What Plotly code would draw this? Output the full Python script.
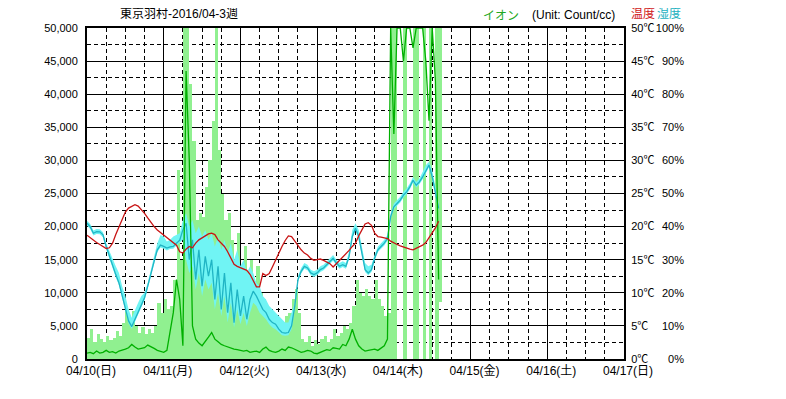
import pandas as pd
import plotly.graph_objects as go

# ---------------- data (hourly, from 2016-04-10 00:00) ----------------
start = "2016-04-10 00:00"

temperature = [
    18.7, 18.3, 18.0, 17.6, 17.3, 17.0, 16.7, 16.8, 17.5, 18.8,
    20.0, 21.2, 22.2, 22.8, 23.1, 23.3, 23.1, 22.6, 22.0, 21.3,
    20.6, 20.0, 19.5, 19.1, 18.8, 18.4, 18.0, 17.6, 17.2, 16.2,
    16.0, 16.6, 17.0, 16.8, 17.5, 18.0, 18.3, 18.7, 18.9, 19.0,
    18.8, 18.0, 17.5, 17.0, 16.2, 15.2, 14.3, 14.0, 13.8, 13.6,
    13.4, 12.8, 11.8, 10.9, 10.9, 12.9, 12.6, 12.9, 13.9, 15.0,
    16.0, 17.0, 17.9, 18.6, 18.5, 17.8, 17.2, 16.5, 16.0, 15.7,
    15.2, 14.9, 15.0, 15.1, 14.9, 14.6, 14.4, 13.9, 14.4, 14.9,
    15.3, 15.9, 16.4, 17.0, 17.5, 18.6, 19.6, 20.4, 20.6, 20.2,
    19.0, 18.5, 18.4, 18.3, 18.2, 17.8, 17.5, 17.3, 17.1, 16.9,
    16.7, 16.6, 16.5, 16.7, 16.9, 17.2, 17.6, 18.3, 19.0, 19.8, 20.8,
]

humidity = [
    41, 40, 38, 38.5, 38.4, 37.5, 34, 31, 28, 25.5,
    23, 19, 15.5, 11.5, 9.8, 12, 14, 16.5, 18.5, 22,
    26, 29.5, 33, 34.4, 34, 33.5, 33.9, 34, 35, 35.9,
    39, 41, 30, 36, 24, 33, 22, 31, 25, 30,
    18, 28, 15, 26, 14, 23, 11, 21, 13, 19,
    12, 18, 20.5, 19, 17, 15, 14, 12, 11, 10.5,
    9, 8, 7.8, 8, 10, 16, 24, 26.5, 28, 27.5,
    26, 25.5, 26, 27, 27.5, 28.4, 29.5, 30.4, 29, 28,
    28.5, 28, 31, 37, 39.5, 37, 32, 27, 26, 27,
    30.5, 33, 34, 35, 36.4, 43, 46, 47, 48, 49.5,
    50.5, 52, 54, 52.5, 53.5, 55, 57, 58.6, 55, 50, 45.5,
]

humidity_high = [
    41.8, 40.8, 38.8, 39.3, 39.2, 38.3, 35, 32.5, 30, 28,
    26, 22, 19, 15, 12.5, 15, 17, 19, 20, 23,
    27, 30.5, 35, 37.5, 37, 35.5, 36, 37, 37.5, 38,
    42, 44, 40, 42, 38, 40, 37, 39, 36, 38,
    34, 37, 33, 36, 32, 35, 30, 33, 28, 30,
    26, 28, 26, 23, 22, 19, 18, 16, 15, 14,
    13, 12, 11, 11, 14, 17, 25, 27.5, 29, 28.5,
    27, 26.5, 27, 28, 28.5, 29.4, 30.5, 31.4, 30, 29,
    29.5, 29, 32.5, 39, 41, 39, 34, 29, 28, 28.5,
    31.5, 34, 35, 36, 37.4, 44, 47, 48, 49, 50.5,
    51.5, 53, 55, 53.5, 54.5, 56.5, 58.5, 59.6, 57, 52, 47,
]

humidity_low = [
    40.3, 39.3, 37.3, 37.8, 37.7, 36.8, 33.2, 30.2, 27.2, 24.7,
    22.3, 18.3, 14.8, 10.8, 9.1, 11.3, 13.3, 15.8, 17.8, 21.3,
    25.3, 28.8, 32.3, 33.7, 33.3, 32.8, 33.2, 33.3, 34.3, 35.2,
    36, 30, 26, 28, 21, 26, 19, 24, 21, 23,
    15, 20, 13, 19, 11, 17, 9.5, 15, 10.5, 14,
    10, 14, 17, 16, 14, 13, 12, 10.5, 9.5, 9,
    8, 7.2, 7, 7.2, 9, 15.3, 23.3, 25.8, 27.3, 26.8,
    25.3, 24.8, 25.3, 26.3, 26.8, 27.7, 28.8, 29.7, 28.3, 27.3,
    27.8, 27.3, 30.3, 36.3, 38.8, 36.3, 31.3, 26.3, 25.3, 26.3,
    29.8, 32.3, 33.3, 34.3, 35.7, 42.3, 45.3, 46.3, 47.3, 48.8,
    49.8, 51.3, 53.3, 51.8, 52.8, 54.3, 56.3, 57.9, 54.3, 49.3, 44.8,
]

ion_mean = [
    900, 1000, 800, 1200, 900, 1000, 1300, 1000, 1100, 900,
    1200, 1300, 1500, 1700, 2200, 1800, 1500, 1600, 1700, 2100,
    1900, 1600, 1300, 1100, 1000, 1300, 4000, 7000, 12000, 9000,
    2000, 43500, 30000, 5000, 3000, 2400, 2000, 2600, 3300, 4000,
    3000, 2600, 2200, 2000, 1800, 1600, 1500, 1400, 1300, 1200,
    1300, 1000, 1100, 1200, 1000, 1500, 1800, 1300, 1100, 1000,
    1200, 1500, 1300, 1800, 1700, 1500, 1200, 1000, 1100, 1300,
    1200, 900, 800, 1000, 1100, 1400, 1300, 1700, 1600, 1500,
    2200, 2000, 3000, 4500, 3000, 2000, 1500, 1200, 1300, 1400,
    1500, 1300, 1600, 2000, 3000, 50000, 34000, 50000, 50000, 45000,
    50000, 50000, 47000, 50000, 50000, 50000, 45000, 36000, 50000, 42000, 12000,
]

ion_high = [
    3200, 4500, 2500, 3800, 3000, 2600, 3500, 2800, 3200, 4200,
    3500, 5500, 7500, 6000, 7200, 5000, 4000, 4800, 3800, 4500,
    4000, 5000, 8500, 7000, 9000, 7500, 8000, 12000, 28500, 15000,
    50000, 50000, 41500, 33000, 21000, 22000, 21500, 26000, 30000, 36000,
    50000, 31500, 25000, 21000, 22000, 18000, 15000, 19000, 14000, 17000,
    13000, 15000, 11000, 14000, 10000, 9000, 8000, 7000, 6000, 5500,
    6000, 5000, 6500, 7000, 9000, 10500, 7000, 3000, 2500, 3500,
    2000, 2800, 2200, 3000, 3500, 2500, 3000, 4500, 3500, 4000,
    5000, 4500, 5500, 8000, 12000, 10000, 9500, 10500, 9500, 9000,
    12000, 9000, 8000, 6500, 7000, 50000, 50000, 50000, 50000, 50000,
    50000, 50000, 50000, 50000, 50000, 50000, 50000, 50000, 50000, 50000, 50000,
]

ion_low = [0] * 95 + [
    0, 0, 50000, 50000, 0, 50000, 50000, 0, 0, 50000,
    0, 50000, 0, 50000, 0, 8600,
]

day_ticks = ["2016-04-10", "2016-04-11", "2016-04-12", "2016-04-13",
             "2016-04-14", "2016-04-15", "2016-04-16", "2016-04-17"]
day_labels = ["04/10(日)", "04/11(月)", "04/12(火)", "04/13(水)",
              "04/14(木)", "04/15(金)", "04/16(土)", "04/17(日)"]
ion_ticks = [0, 5000, 10000, 15000, 20000, 25000, 30000, 35000, 40000, 45000, 50000]
temp_ticks = [0, 5, 10, 15, 20, 25, 30, 35, 40, 45, 50]
temp_labels = ["0℃", "5℃", "10℃", "15℃", "20℃", "25℃", "30℃", "35℃", "40℃", "45℃", "50℃"]
hum_ticks = [0, 10, 20, 30, 40, 50, 60, 70, 80, 90, 100]
hum_labels = ["0%", "10%", "20%", "30%", "40%", "50%", "60%", "70%", "80%", "90%", "100%"]

# ---------------- figure ----------------
t = pd.date_range(start, periods=len(temperature), freq="h")
HOUR_MS = 3600 * 1000

FONT = "Liberation Sans, Noto Sans CJK JP, sans-serif"
OFF = 8                      # page body margin in the browser
W, H = 786 - 2 * OFF, 399 - 2 * OFF
L, T, R_PAPER, B = 87 - OFF, 28 - OFF, 700 - OFF, 359 - OFF
plot_right = 624 - OFF
xdom = (plot_right - L) / (R_PAPER - L)


def px(xp):
    return (xp - OFF - L) / (R_PAPER - L)


def py(yp):
    return (B - (yp - OFF)) / (B - T)


fig = go.Figure()

# ion min-max band (light green)
fig.add_trace(go.Bar(
    x=t, y=[h - l for h, l in zip(ion_high, ion_low)], base=ion_low,
    width=HOUR_MS, offset=0, marker=dict(color="#90f090", line=dict(width=0)),
    yaxis="y", hoverinfo="skip", showlegend=False,
))

# humidity band and mean
fig.add_trace(go.Scatter(x=t, y=humidity_low, mode="lines", line=dict(width=0, color="#70f4f4"),
                         yaxis="y2", showlegend=False, hoverinfo="skip"))
fig.add_trace(go.Scatter(x=t, y=humidity_high, mode="lines", line=dict(width=0, color="#70f4f4"),
                         fill="tonexty", fillcolor="#70f4f4", yaxis="y2", showlegend=False))
fig.add_trace(go.Scatter(x=t, y=humidity, mode="lines", line=dict(width=1.3, color="#20b4c4"),
                         yaxis="y2", showlegend=False))

# ion mean (dark green)
fig.add_trace(go.Scatter(x=t, y=ion_mean, mode="lines", line=dict(width=1.3, color="#00b000"),
                         yaxis="y3", showlegend=False))

# temperature (red)
fig.add_trace(go.Scatter(x=t, y=temperature, mode="lines", line=dict(width=1.3, color="#c81414"),
                         yaxis="y4", showlegend=False))

xfont = dict(family=FONT, size=12, color="black")
yfont = dict(family=FONT, size=11, color="black")

fig.update_layout(
    width=W, height=H,
    margin=dict(l=L, r=W - R_PAPER, t=T, b=H - B, pad=0, autoexpand=False),
    paper_bgcolor="white", plot_bgcolor="white",
    barmode="overlay", bargap=0,
    font=dict(family=FONT, size=12, color="black"),
    xaxis=dict(
        type="date", domain=[0, xdom], automargin=False,
        range=["2016-04-10 00:00", "2016-04-17 00:00"],
        tickvals=day_ticks, ticktext=day_labels, tickfont=xfont,
        ticklabelshift=4, ticks="",
        showgrid=True, gridcolor="black", gridwidth=1,
        minor=dict(dtick=6 * HOUR_MS, showgrid=True, gridcolor="black",
                   griddash="4px,3px", gridwidth=1),
        showline=True, linecolor="black", linewidth=2, mirror=True,
        zeroline=False,
    ),
    yaxis=dict(
        range=[0, 50000], tickvals=ion_ticks, tickformat=",d", tickfont=yfont,
        automargin=False,
        ticks="outside", ticklen=5, tickcolor="rgba(0,0,0,0)",
        showgrid=True, gridcolor="black", gridwidth=1,
        minor=dict(dtick=2500, showgrid=True, gridcolor="black",
                   griddash="4px,3px", gridwidth=1),
        showline=True, linecolor="black", linewidth=2, mirror=True,
        zeroline=False,
    ),
    yaxis2=dict(
        range=[0, 100], overlaying="y", side="left", anchor="free", automargin=False,
        position=px(684), tickvals=hum_ticks, ticktext=hum_labels, tickfont=yfont,
        showgrid=False, zeroline=False, showline=False, ticks="",
    ),
    yaxis3=dict(range=[0, 50000], overlaying="y", visible=False, automargin=False),
    yaxis4=dict(
        range=[0, 50], overlaying="y", side="right", anchor="x", automargin=False,
        tickvals=temp_ticks, ticktext=temp_labels, tickfont=yfont,
        showgrid=False, zeroline=False, showline=False,
        ticks="outside", ticklen=4, tickcolor="rgba(0,0,0,0)",
    ),
)

annots = [
    dict(text="東京羽村-2016/04-3週", x=px(179), y=py(14), xanchor="center", color="black"),
    dict(text="イオン", x=px(501), y=py(16), xanchor="center", color="#22a822"),
    dict(text="(Unit: Count/cc)", x=px(530), y=py(15), xanchor="left", color="black"),
    dict(text="温度", x=px(629), y=py(14), xanchor="left", color="#d01818"),
    dict(text="湿度", x=px(655), y=py(14), xanchor="left", color="#20b0c0"),
]
for a in annots:
    fig.add_annotation(
        text=a["text"], x=a["x"], y=a["y"], xref="paper", yref="paper",
        xanchor=a["xanchor"], yanchor="middle", showarrow=False,
        font=dict(family=FONT, size=12, color=a["color"]),
    )

fig.write_html("out.html")
